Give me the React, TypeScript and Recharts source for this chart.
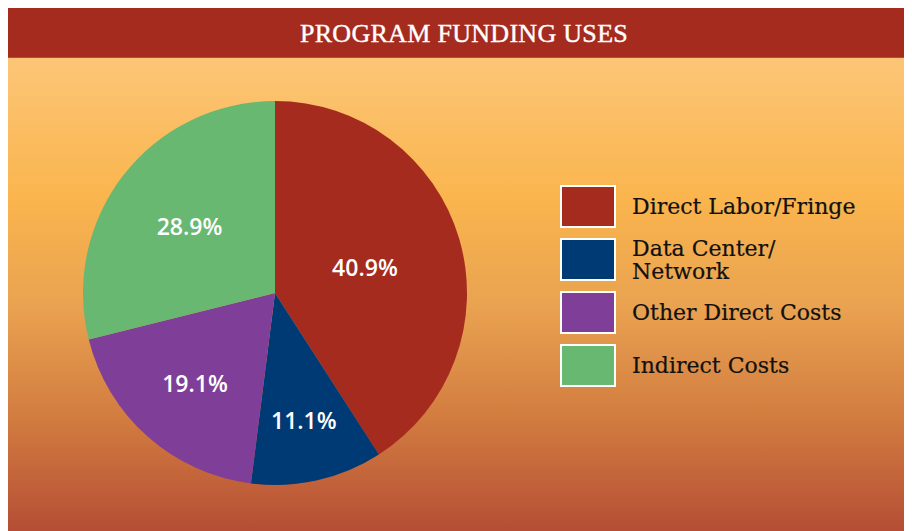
import { Cell, Legend, Pie, PieChart } from "recharts";

const categories = ["Direct Labor/Fringe", "Data Center/\nNetwork", "Other Direct Costs", "Indirect Costs"];
const shares = [40.9, 11.1, 19.1, 28.9];
const colors = ["#A52B1F", "#003A75", "#7F3F98", "#68B872"];

const data = categories.map((name, i) => ({ name, value: shares[i] }));

const RAD = Math.PI / 180;

// bigger slices get their label pulled closer to the centre, like the original
const renderLabel = (props: any) => {
    const { cx, cy, midAngle, outerRadius, value, percent } = props;
    const r = outerRadius * (0.75 - 0.64 * percent);
    const x = cx + r * Math.cos(-midAngle * RAD);
    const y = cy + r * Math.sin(-midAngle * RAD);
    return (
        <text
            x={x}
            y={y}
            fill="#ffffff"
            textAnchor="middle"
            dominantBaseline="central"
            style={{ fontFamily: "'Open Sans', sans-serif", fontWeight: 600, fontSize: 23 }}
        >
            {value.toFixed(1)}%
        </text>
    );
};

// legend keeps the original series order (recharts would sort it)
const renderLegend = () => (
    <div style={{ fontFamily: "'DejaVu Serif', serif", fontSize: 22, color: "#111", WebkitTextStroke: "0.2px #111" }}>
        {categories.map((name, i) => (
            <div key={name} style={{ display: "flex", alignItems: "center", height: 43, marginBottom: 10 }}>
                <div
                    style={{
                        width: 52,
                        height: 39,
                        background: colors[i],
                        border: "2px solid #ffffff",
                        flexShrink: 0,
                    }}
                />
                <div style={{ marginLeft: 16, lineHeight: "23px", whiteSpace: "pre-line" }}>{name}</div>
            </div>
        ))}
    </div>
);

export default function App() {
    return (
        <div
            style={{
                position: "relative",
                width: 904,
                height: 523,
                background:
                    "linear-gradient(to bottom, #FDCB85 0px, #FAB54E 190px, #E9A250 300px, #D27C40 410px, #B54E35 523px)",
            }}
        >
            <div
                style={{
                    position: "absolute",
                    left: 0,
                    top: 0,
                    width: 904,
                    height: 50,
                    background: "#A52B1E",
                    borderBottom: "1px solid #C4452F",
                    color: "#ffffff",
                    fontFamily: "'Liberation Serif', serif",
                    fontSize: 26,
                    letterSpacing: 0.3,
                    WebkitTextStroke: "0.4px #ffffff",
                    textAlign: "center",
                    lineHeight: "52px",
                    paddingLeft: 8,
                    boxSizing: "border-box",
                    zIndex: 2,
                }}
            >
                PROGRAM FUNDING USES
            </div>
            <div style={{ position: "absolute", left: 0, top: 0 }}>
                <PieChart width={904} height={523} margin={{ top: 0, right: 0, bottom: 0, left: 0 }}>
                    <Pie
                        data={data}
                        dataKey="value"
                        nameKey="name"
                        cx={267}
                        cy={285}
                        outerRadius={192}
                        startAngle={90}
                        endAngle={-270}
                        stroke="none"
                        label={renderLabel}
                        labelLine={false}
                        isAnimationActive={false}
                    >
                        {data.map((_, i) => (
                            <Cell key={i} fill={colors[i]} />
                        ))}
                    </Pie>
                    <Legend
                        content={renderLegend}
                        layout="vertical"
                        wrapperStyle={{ left: 552, top: 177, right: "auto", bottom: "auto", width: 340 }}
                    />
                </PieChart>
            </div>
        </div>
    );
}
